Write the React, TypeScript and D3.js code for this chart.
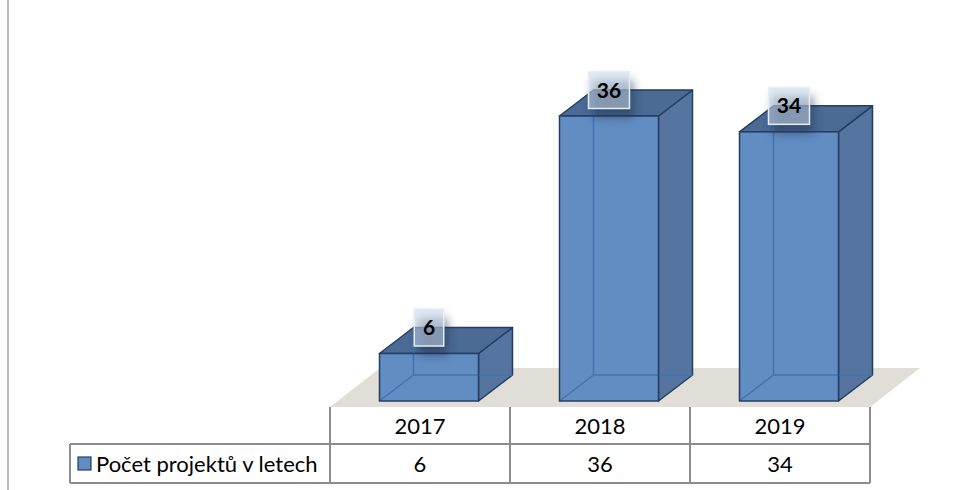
import React from 'react';
import * as d3 from 'd3';

const years = ['2017', '2018', '2019'];
const values = [6, 36, 34];
const seriesName = 'Počet projektů v letech';

const W = 959;
const H = 490;
const font = "Lato, 'Open Sans', sans-serif";

export default function App() {
    // table columns double as the category axis
    const x = d3.scaleBand<string>().domain(years).range([330, 870]);
    const y = d3.scaleLinear().domain([0, 36]).range([401, 116]);

    const depth = { dx: 34, dy: -26 };
    const barW = 99;
    const shift = 9;

    const floor = { front: 407, back: 368, left: 330, right: 870, dx: 50 };
    const rowTop = 407;
    const rowMid = 444;
    const rowBot = 483;
    const legendLeft = 70;

    const grid = '#8c8c8c';

    return (
        <svg width={W} height={H} style={{ position: 'absolute', left: 0, top: 0 }}>
            <defs>
                <filter id="shadow" x="-50%" y="-50%" width="200%" height="200%">
                    <feGaussianBlur stdDeviation="5" />
                </filter>
            </defs>
            <rect x={0} y={0} width={W} height={H} fill="#fff" />
            {/* chart border */}
            <line x1={8} x2={8} y1={0} y2={H} stroke="#a6a6a6" strokeWidth={1.5} />

            {/* floor */}
            <path
                d={`M${floor.left},${floor.front} L${floor.right},${floor.front} L${floor.right + floor.dx},${floor.back} L${floor.left + floor.dx},${floor.back} Z`}
                fill="#e1ded7"
            />

            {/* bars */}
            {years.map((yr, i) => {
                const x0 = (x(yr) as number) + x.bandwidth() / 2 - barW / 2 + shift;
                const x1 = x0 + barW;
                const top = y(values[i]);
                const bot = y(0);
                const { dx, dy } = depth;
                return (
                    <g key={yr}>
                        <path
                            d={`M${x1},${bot} L${x1 + dx},${bot + dy} L${x1 + dx},${top + dy} L${x1},${top} Z`}
                            fill="#55749f"
                            stroke="#243e62"
                            strokeWidth={1.5}
                            strokeLinejoin="round"
                        />
                        <path
                            d={`M${x0},${top} L${x0 + dx},${top + dy} L${x1 + dx},${top + dy} L${x1},${top} Z`}
                            fill="#4b6a94"
                            stroke="#243e62"
                            strokeWidth={1.5}
                            strokeLinejoin="round"
                        />
                        <rect x={x0} y={top} width={barW} height={bot - top} fill="#628dc3" />
                        {/* hidden edges seen through the glassy front */}
                        <path
                            d={`M${x0},${bot} L${x0 + dx},${bot + dy} L${x1 + dx},${bot + dy} M${x0 + dx},${bot + dy} L${x0 + dx},${top + dy}`}
                            fill="none"
                            stroke="#4373ad"
                            strokeWidth={1.5}
                        />
                        <rect x={x0} y={top} width={barW} height={bot - top} fill="none" stroke="#243e62" strokeWidth={1.5} />
                    </g>
                );
            })}

            {/* data labels */}
            {years.map((yr, i) => {
                const cx = (x(yr) as number) + x.bandwidth() / 2 + shift;
                const cy = y(values[i]) + depth.dy;
                const txt = String(values[i]);
                const bw = 18 + txt.length * 11.5;
                const bh = 37;
                return (
                    <g key={`lab-${yr}`}>
                        <rect x={cx - bw / 2 + 4} y={cy - bh / 2 + 9} width={bw} height={bh} fill="#1d2f48" opacity={0.5} filter="url(#shadow)" />
                        <rect x={cx - bw / 2} y={cy - bh / 2} width={bw} height={bh} fill="#c9d7ea" fillOpacity={0.55} stroke="#e6edf6" strokeWidth={1.5} />
                        <text x={cx} y={cy + 7.5} textAnchor="middle" fontFamily={font} fontWeight="bold" fontSize={21} fill="#000">
                            {txt}
                        </text>
                    </g>
                );
            })}

            {/* data table */}
            <g stroke={grid} strokeWidth={2} fill="none">
                <line x1={legendLeft} x2={floor.right} y1={rowMid} y2={rowMid} />
                <line x1={legendLeft} x2={floor.right} y1={rowBot} y2={rowBot} />
                <line x1={legendLeft} x2={legendLeft} y1={rowMid} y2={rowBot} />
                {years.map((yr) => (
                    <line key={`v-${yr}`} x1={x(yr) as number} x2={x(yr) as number} y1={rowTop} y2={rowBot} />
                ))}
                <line x1={floor.right} x2={floor.right} y1={rowTop} y2={rowBot} />
            </g>
            {years.map((yr, i) => (
                <g key={`cell-${yr}`} fontFamily={font} fontSize={22} fill="#000" textAnchor="middle">
                    <text x={(x(yr) as number) + x.bandwidth() / 2} y={(rowTop + rowMid) / 2 + 8}>{yr}</text>
                    <text x={(x(yr) as number) + x.bandwidth() / 2} y={(rowMid + rowBot) / 2 + 8}>{values[i]}</text>
                </g>
            ))}

            {/* legend key */}
            <rect x={78} y={457} width={13} height={13} fill="#628dc3" stroke="#243e62" strokeWidth={1.2} />
            <text x={96} y={(rowMid + rowBot) / 2 + 8} fontFamily={font} fontSize={22} fill="#000">
                {seriesName}
            </text>
        </svg>
    );
}
